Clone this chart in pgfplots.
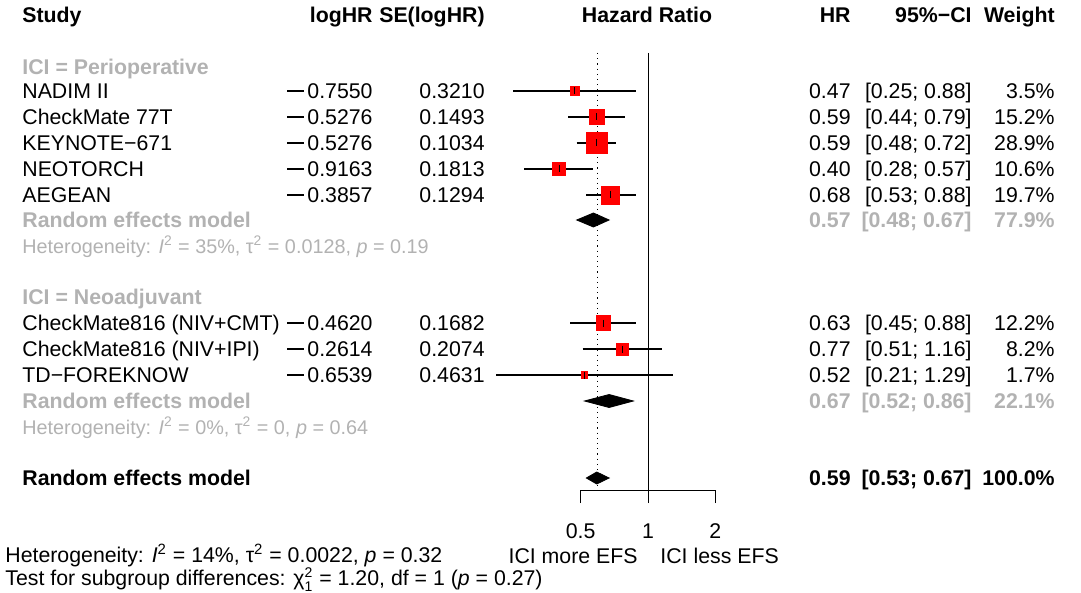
\documentclass[border=0pt]{standalone}
\usepackage{pgfplots}
\pgfplotsset{compat=1.18}
\usepackage{pgfplotstable}
\usepackage{fontspec}
\setmainfont{Liberation Sans}
\definecolor{grp}{RGB}{178,178,178}
\newcommand\fs{\fontsize{10.65}{12.5}\selectfont}
\newcommand\hs{\fontsize{9.9}{12}\selectfont}
\newcommand\sq{\textsuperscript{2}}
\newcommand\mn{\rule[3.4pt]{8.5pt}{0.7pt}\kern1.5pt}

% studies: HR, lower, upper, row (negative pixel row), square side (px)
\pgfplotstableread{
hr   lo   hi   y    sq
0.47 0.25 0.88 -91  8.7
0.59 0.44 0.79 -117 15.7
0.59 0.48 0.72 -143 21
0.40 0.28 0.57 -169 13.3
0.68 0.53 0.88 -195 18
0.63 0.45 0.88 -323 14.3
0.77 0.51 1.16 -349 12
0.52 0.21 1.29 -375 6.7
}\studies

\begin{document}
\begin{tikzpicture}
\path[use as bounding box] (0,0) rectangle (540.5pt,-296.5pt);
\begin{axis}[
  at={(290.35pt,-245pt)}, anchor=south west,
  scale only axis, width=67.3pt, height=218.5pt,
  xmode=log, xmin=0.5, xmax=2, ymin=-490, ymax=-53,
  axis x line=bottom, axis y line=none,
  x axis line style={-, line width=0.5pt},
  xtick={0.5,1,2}, xticklabels={0.5,1,2}, xminorticks=false,
  tick align=outside, major tick length=6.5pt,
  major tick style={line width=0.5pt, black},
  xticklabel style={anchor=center, yshift=-14pt, font=\fs},
  clip=false,
]
% reference lines
\addplot[black, line width=0.5pt] coordinates {(1,-53) (1,-490)};
\addplot[black, dotted, line width=0.6pt] coordinates {(0.592,-53) (0.592,-490)};
% squares
\addplot[scatter, only marks, mark=square*, point meta=0,
  scatter/use mapped color={draw=red, fill=red},
  visualization depends on={0.25*\thisrow{sq} \as \msz},
  scatter/@pre marker code/.append style={/tikz/mark size=\msz}]
  table[x=hr, y=y] {\studies};
% confidence intervals
\addplot[black, line width=0.55pt] coordinates {(0.25,-91) (0.88,-91)};
\addplot[black, line width=0.55pt] coordinates {(0.44,-117) (0.79,-117)};
\addplot[black, line width=0.55pt] coordinates {(0.48,-143) (0.72,-143)};
\addplot[black, line width=0.55pt] coordinates {(0.28,-169) (0.57,-169)};
\addplot[black, line width=0.55pt] coordinates {(0.53,-195) (0.88,-195)};
\addplot[black, line width=0.55pt] coordinates {(0.45,-323) (0.88,-323)};
\addplot[black, line width=0.55pt] coordinates {(0.51,-349) (1.16,-349)};
\addplot[black, line width=0.55pt] coordinates {(0.21,-375) (1.29,-375)};
% centre ticks
\addplot[only marks, mark=|, mark size=1.75pt, mark options={line width=0.5pt, black}]
  table[x=hr, y=y] {\studies};
% diamonds
\addplot[fill=black, draw=black] coordinates {(0.48,-220) (0.57,-213) (0.67,-220) (0.57,-227)} -- cycle;
\addplot[fill=black, draw=black] coordinates {(0.52,-401) (0.67,-394.5) (0.86,-401) (0.67,-407.5)} -- cycle;
\addplot[fill=black, draw=black] coordinates {(0.53,-478) (0.59,-472) (0.67,-478) (0.59,-484)} -- cycle;
\end{axis}

\begin{scope}[x=0.5pt, y=-0.5pt,
  every node/.style={inner sep=0pt, text height=7.6pt, text depth=0pt, font=\fs},
  L/.style={anchor=west}, R/.style={anchor=east}, C/.style={anchor=center},
  g/.style={text=grp}, b/.style={font=\fs\bfseries}, h/.style={font=\hs, text height=7.1pt}]
% headers
\node[L,b] at (22,15) {Study};
\node[R,b] at (373,15) {logHR};
\node[R,b] at (485,15) {SE(logHR)};
\node[C,b] at (647,15) {Hazard Ratio};
\node[R,b] at (851,15) {HR};
\node[R,b] at (972,15) {95\%−CI};
\node[R,b] at (1055,15) {Weight};
% subgroup 1
\node[L,b,g] at (22,67) {ICI = Perioperative};
\foreach \y/\n/\l/\s/\h/\c/\w in {
  91/NADIM II/0.7550/0.3210/0.47/{[0.25; 0.88]}/3.5\%,
  117/CheckMate 77T/0.5276/0.1493/0.59/{[0.44; 0.79]}/15.2\%,
  143/KEYNOTE−671/0.5276/0.1034/0.59/{[0.48; 0.72]}/28.9\%,
  169/NEOTORCH/0.9163/0.1813/0.40/{[0.28; 0.57]}/10.6\%,
  195/AEGEAN/0.3857/0.1294/0.68/{[0.53; 0.88]}/19.7\%,
  323/CheckMate816 (NIV+CMT)/0.4620/0.1682/0.63/{[0.45; 0.88]}/12.2\%,
  349/CheckMate816 (NIV+IPI)/0.2614/0.2074/0.77/{[0.51; 1.16]}/8.2\%,
  375/TD−FOREKNOW/0.6539/0.4631/0.52/{[0.21; 1.29]}/1.7\%}{
  \node[L] at (22,\y) {\n};
  \node[R] at (373,\y) {\mn\l};
  \node[R] at (485,\y) {\s};
  \node[R] at (851,\y) {\h};
  \node[R] at (972,\y) {\c};
  \node[R] at (1055,\y) {\w};
}
\node[L,b,g] at (22,220) {Random effects model};
\node[R,b,g] at (851,220) {0.57};
\node[R,b,g] at (972,220) {[0.48; 0.67]};
\node[R,b,g] at (1055,220) {77.9\%};
\node[L,g,h] at (22,246) {Heterogeneity: \textit{I}\sq\ = 35\%, τ\sq\ = 0.0128, \textit{p} = 0.19};
% subgroup 2
\node[L,b,g] at (22,297) {ICI = Neoadjuvant};
\node[L,b,g] at (22,401) {Random effects model};
\node[R,b,g] at (851,401) {0.67};
\node[R,b,g] at (972,401) {[0.52; 0.86]};
\node[R,b,g] at (1055,401) {22.1\%};
\node[L,g,h] at (22,427) {Heterogeneity: \textit{I}\sq\ = 0\%, τ\sq\ = 0, \textit{p} = 0.64};
% overall
\node[L,b] at (22,478) {Random effects model};
\node[R,b] at (851,478) {0.59};
\node[R,b] at (972,478) {[0.53; 0.67]};
\node[R,b] at (1055,478) {100.0\%};
% bottom
\node[R] at (638,556) {ICI more EFS};
\node[L] at (660,556) {ICI less EFS};
\node[L] at (5,555) {Heterogeneity: \textit{I}\sq\ = 14\%, τ\sq\ = 0.0022, \textit{p} = 0.32};
\node[L] at (5,578) {Test for subgroup differences: \mbox{χ}$^{\mbox{\scriptsize 2}}_{\mbox{\scriptsize 1}}$ = 1.20, df = 1 (\textit{p} = 0.27)};
\end{scope}
\end{tikzpicture}
\end{document}
